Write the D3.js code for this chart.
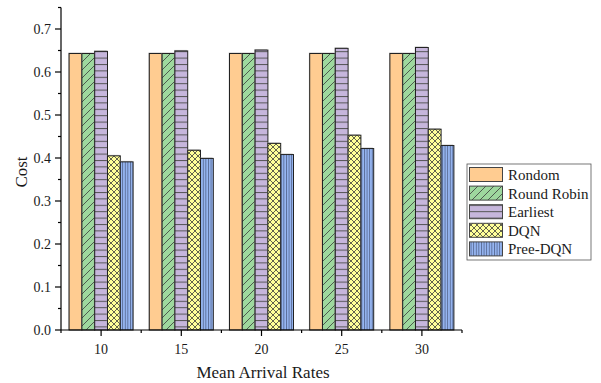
<!DOCTYPE html>
<html><head><meta charset="utf-8">
<script src="https://cdn.jsdelivr.net/npm/d3@7"></script>
<style>body{margin:0;background:#fff}svg{display:block}text{font-family:"Liberation Serif","Times New Roman",serif;fill:#1a1a1a}</style>
</head><body><svg id="c" width="601" height="383"></svg>
<script>
const categories = [10, 15, 20, 25, 30];
const seriesNames = ["Rondom", "Round Robin", "Earliest", "DQN", "Pree-DQN"];
const rondom = [0.643, 0.643, 0.643, 0.643, 0.643];
const roundRobin = [0.643, 0.643, 0.643, 0.643, 0.643];
const earliest = [0.648, 0.649, 0.651, 0.655, 0.657];
const dqn = [0.405, 0.418, 0.434, 0.453, 0.467];
const preeDqn = [0.391, 0.399, 0.408, 0.422, 0.429];
const yTicks = [0, 0.1, 0.2, 0.3, 0.4, 0.5, 0.6, 0.7];
const series = [rondom, roundRobin, earliest, dqn, preeDqn];
const fills = ["#FFCC91", "#9ED89E", "#C6B6DC", "#FFFF99", "#96B6F2"];

const svg = d3.select("#c");
const defs = svg.append("defs");
const pc = "#3a3a3a";
function pat(id, w, h, draw, bg) {
  const p = defs.append("pattern").attr("id", id).attr("patternUnits", "userSpaceOnUse").attr("width", w).attr("height", h);
  p.append("rect").attr("width", w).attr("height", h).attr("fill", bg);
  draw(p);
}
pat("p0", 8, 8, p => {}, fills[0]);
pat("p1", 8, 8, p => {
  p.append("path").attr("d", "M0,8 L8,0 M-2,2 L2,-2 M6,10 L10,6").attr("stroke", pc).attr("stroke-width", 0.8);
}, fills[1]);
pat("p2", 8, 6.4, p => {
  p.append("line").attr("x1", 0).attr("x2", 8).attr("y1", 0.5).attr("y2", 0.5).attr("stroke", "#555").attr("stroke-width", 1);
}, fills[2]);
pat("p3", 6, 6, p => {
  p.append("path").attr("d", "M0,0 L6,6 M6,0 L0,6").attr("stroke", pc).attr("stroke-width", 0.8);
}, fills[3]);
pat("p4", 2.6, 8, p => {
  p.append("line").attr("x1", 0.5).attr("x2", 0.5).attr("y1", 0).attr("y2", 8).attr("stroke", "#4a5a80").attr("stroke-width", 0.8);
}, fills[4]);

const x = d3.scaleLinear().domain([7.5, 32.5]).range([61, 462]);
const y = d3.scaleLinear().domain([0, 0.75]).range([330, 7.5]);
const groupW = 64, barW = groupW / 5;

series.forEach((vals, s) => {
  const g = svg.append("g");
  g.selectAll("rect.sh").data(vals).join("rect")
    .attr("x", (d, i) => x(categories[i]) - groupW / 2 + s * barW - 0.8)
    .attr("y", d => y(d) - 1)
    .attr("width", barW).attr("height", d => y(0) - y(d) + 1)
    .attr("fill", "#9a9a9a").attr("opacity", 0.6);
  g.selectAll("rect.b").data(vals).join("rect")
    .attr("x", (d, i) => x(categories[i]) - groupW / 2 + s * barW)
    .attr("y", d => y(d))
    .attr("width", barW).attr("height", d => y(0) - y(d))
    .attr("fill", `url(#p${s})`).attr("stroke", "#222").attr("stroke-width", 1);
});

const axG = svg.append("g").attr("stroke", "#000").attr("stroke-width", 1.2);
axG.append("line").attr("x1", 61).attr("x2", 61).attr("y1", y(0.75)).attr("y2", y(0));
axG.append("line").attr("x1", 61).attr("x2", 462).attr("y1", y(0)).attr("y2", y(0));
const yMinor = d3.range(0.05, 0.751, 0.1);
yTicks.forEach(t => axG.append("line").attr("x1", 55).attr("x2", 61).attr("y1", y(t)).attr("y2", y(t)));
yMinor.forEach(t => axG.append("line").attr("x1", 58).attr("x2", 61).attr("y1", y(t)).attr("y2", y(t)));
categories.forEach(c => axG.append("line").attr("x1", x(c)).attr("x2", x(c)).attr("y1", 330).attr("y2", 336));
[7.5, 12.5, 17.5, 22.5, 27.5, 32.5].forEach(c => axG.append("line").attr("x1", x(c)).attr("x2", x(c)).attr("y1", 330).attr("y2", 333));

svg.selectAll("text.yt").data(yTicks).join("text")
  .attr("x", 51).attr("y", d => y(d) + 4.5).attr("text-anchor", "end")
  .attr("font-size", 14).text(d => d.toFixed(1));
svg.selectAll("text.xt").data(categories).join("text")
  .attr("x", d => x(d)).attr("y", 354).attr("text-anchor", "middle")
  .attr("font-size", 14).text(d => d);

svg.append("text").attr("x", 263).attr("y", 378).attr("text-anchor", "middle").attr("font-size", 17).text("Mean Arrival Rates");
svg.append("text").attr("transform", "translate(27,172) rotate(-90)").attr("text-anchor", "middle").attr("font-size", 17).text("Cost");

const lg = svg.append("g");
lg.append("rect").attr("x", 467).attr("y", 164).attr("width", 124).attr("height", 96).attr("fill", "#fff").attr("stroke", "#555").attr("stroke-width", 0.8);
seriesNames.forEach((n, i) => {
  const cy = 175 + i * 18.6;
  lg.append("rect").attr("x", 469.5).attr("y", cy - 7.5).attr("width", 33).attr("height", 14)
    .attr("fill", `url(#p${i})`).attr("stroke", "#444").attr("stroke-width", 1);
  lg.append("text").attr("x", 508).attr("y", cy + 5).attr("font-size", 15).text(n);
});
</script></body></html>
